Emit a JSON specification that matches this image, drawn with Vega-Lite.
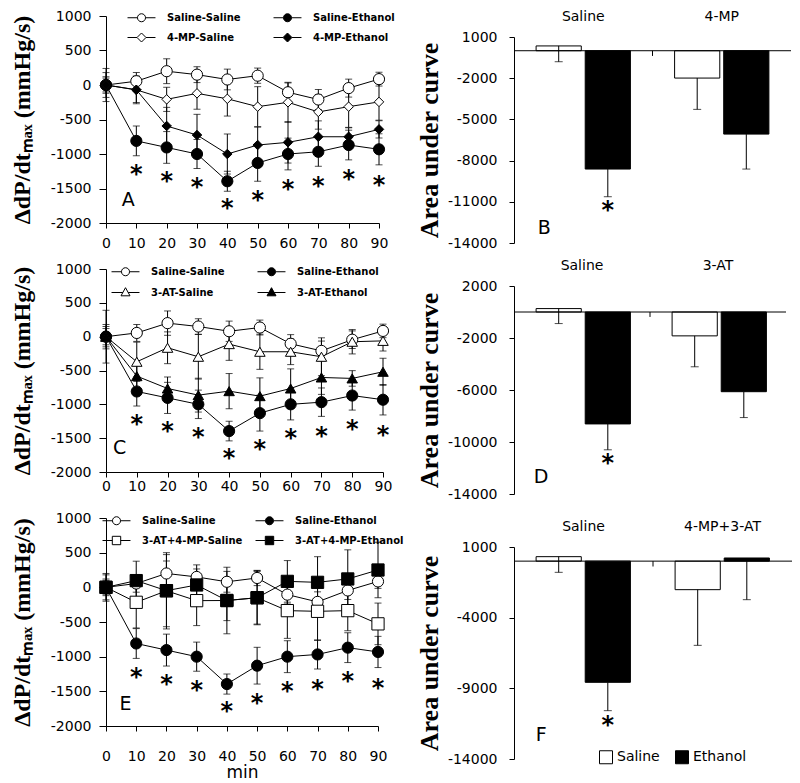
{
  "$schema": "https://vega.github.io/schema/vega-lite/v6.json",
  "background": "white",
  "padding": {"left": 10, "top": 0, "right": 0, "bottom": 0},
  "config": {
    "view": {"stroke": null},
    "font": "DejaVu Sans",
    "axis": {"grid": false, "domainColor": "black", "tickColor": "black", "labelColor": "black", "titleColor": "black", "labelFont": "DejaVu Sans", "labelFontSize": 14, "domainWidth": 1, "tickWidth": 1}
  },
  "datasets": {
    "A": [
      {"series": "Saline-Saline", "t": 0, "v": 0, "e": 180}, {"series": "Saline-Saline", "t": 10, "v": 55, "e": 125}, {"series": "Saline-Saline", "t": 20, "v": 200, "e": 180}, {"series": "Saline-Saline", "t": 30, "v": 150, "e": 115}, {"series": "Saline-Saline", "t": 40, "v": 80, "e": 150}, {"series": "Saline-Saline", "t": 50, "v": 135, "e": 110}, {"series": "Saline-Saline", "t": 60, "v": -105, "e": 135}, {"series": "Saline-Saline", "t": 70, "v": -210, "e": 145}, {"series": "Saline-Saline", "t": 80, "v": -45, "e": 130}, {"series": "Saline-Saline", "t": 90, "v": 85, "e": 100},
      {"series": "Saline-Ethanol", "t": 0, "v": 0, "e": 120}, {"series": "Saline-Ethanol", "t": 10, "v": -810, "e": 215}, {"series": "Saline-Ethanol", "t": 20, "v": -905, "e": 230}, {"series": "Saline-Ethanol", "t": 30, "v": -1000, "e": 210}, {"series": "Saline-Ethanol", "t": 40, "v": -1395, "e": 145}, {"series": "Saline-Ethanol", "t": 50, "v": -1130, "e": 265}, {"series": "Saline-Ethanol", "t": 60, "v": -1000, "e": 230}, {"series": "Saline-Ethanol", "t": 70, "v": -968, "e": 210}, {"series": "Saline-Ethanol", "t": 80, "v": -870, "e": 215}, {"series": "Saline-Ethanol", "t": 90, "v": -932, "e": 225},
      {"series": "4-MP-Saline", "t": 0, "v": 0, "e": 240}, {"series": "4-MP-Saline", "t": 10, "v": -70, "e": 200}, {"series": "4-MP-Saline", "t": 20, "v": -208, "e": 175}, {"series": "4-MP-Saline", "t": 30, "v": -121, "e": 230}, {"series": "4-MP-Saline", "t": 40, "v": -200, "e": 250}, {"series": "4-MP-Saline", "t": 50, "v": -314, "e": 290}, {"series": "4-MP-Saline", "t": 60, "v": -251, "e": 290}, {"series": "4-MP-Saline", "t": 70, "v": -390, "e": 250}, {"series": "4-MP-Saline", "t": 80, "v": -314, "e": 300}, {"series": "4-MP-Saline", "t": 90, "v": -245, "e": 265},
      {"series": "4-MP-Ethanol", "t": 0, "v": 0, "e": 100}, {"series": "4-MP-Ethanol", "t": 10, "v": -70, "e": 185}, {"series": "4-MP-Ethanol", "t": 20, "v": -594, "e": 270}, {"series": "4-MP-Ethanol", "t": 30, "v": -725, "e": 300}, {"series": "4-MP-Ethanol", "t": 40, "v": -1000, "e": 290}, {"series": "4-MP-Ethanol", "t": 50, "v": -870, "e": 260}, {"series": "4-MP-Ethanol", "t": 60, "v": -831, "e": 300}, {"series": "4-MP-Ethanol", "t": 70, "v": -750, "e": 230}, {"series": "4-MP-Ethanol", "t": 80, "v": -750, "e": 130}, {"series": "4-MP-Ethanol", "t": 90, "v": -643, "e": 125}
    ],
    "C": [
      {"series": "Saline-Saline", "t": 0, "v": 0, "e": 180}, {"series": "Saline-Saline", "t": 10, "v": 55, "e": 125}, {"series": "Saline-Saline", "t": 20, "v": 200, "e": 180}, {"series": "Saline-Saline", "t": 30, "v": 150, "e": 115}, {"series": "Saline-Saline", "t": 40, "v": 80, "e": 150}, {"series": "Saline-Saline", "t": 50, "v": 135, "e": 110}, {"series": "Saline-Saline", "t": 60, "v": -105, "e": 135}, {"series": "Saline-Saline", "t": 70, "v": -210, "e": 145}, {"series": "Saline-Saline", "t": 80, "v": -45, "e": 130}, {"series": "Saline-Saline", "t": 90, "v": 85, "e": 100},
      {"series": "Saline-Ethanol", "t": 0, "v": 0, "e": 120}, {"series": "Saline-Ethanol", "t": 10, "v": -810, "e": 215}, {"series": "Saline-Ethanol", "t": 20, "v": -905, "e": 230}, {"series": "Saline-Ethanol", "t": 30, "v": -1000, "e": 210}, {"series": "Saline-Ethanol", "t": 40, "v": -1395, "e": 145}, {"series": "Saline-Ethanol", "t": 50, "v": -1130, "e": 265}, {"series": "Saline-Ethanol", "t": 60, "v": -1000, "e": 230}, {"series": "Saline-Ethanol", "t": 70, "v": -968, "e": 210}, {"series": "Saline-Ethanol", "t": 80, "v": -870, "e": 215}, {"series": "Saline-Ethanol", "t": 90, "v": -932, "e": 225},
      {"series": "3-AT-Saline", "t": 0, "v": 0, "e": 390}, {"series": "3-AT-Saline", "t": 10, "v": -371, "e": 290}, {"series": "3-AT-Saline", "t": 20, "v": -164, "e": 235}, {"series": "3-AT-Saline", "t": 30, "v": -297, "e": 330}, {"series": "3-AT-Saline", "t": 40, "v": -110, "e": 240}, {"series": "3-AT-Saline", "t": 50, "v": -223, "e": 260}, {"series": "3-AT-Saline", "t": 60, "v": -223, "e": 190}, {"series": "3-AT-Saline", "t": 70, "v": -297, "e": 280}, {"series": "3-AT-Saline", "t": 80, "v": -75, "e": 180}, {"series": "3-AT-Saline", "t": 90, "v": -62, "e": 150},
      {"series": "3-AT-Ethanol", "t": 0, "v": 0, "e": 150}, {"series": "3-AT-Ethanol", "t": 10, "v": -583, "e": 180}, {"series": "3-AT-Ethanol", "t": 20, "v": -766, "e": 170}, {"series": "3-AT-Ethanol", "t": 30, "v": -864, "e": 250}, {"series": "3-AT-Ethanol", "t": 40, "v": -805, "e": 260}, {"series": "3-AT-Ethanol", "t": 50, "v": -879, "e": 270}, {"series": "3-AT-Ethanol", "t": 60, "v": -766, "e": 290}, {"series": "3-AT-Ethanol", "t": 70, "v": -603, "e": 250}, {"series": "3-AT-Ethanol", "t": 80, "v": -617, "e": 115}, {"series": "3-AT-Ethanol", "t": 90, "v": -519, "e": 200}
    ],
    "E": [
      {"series": "Saline-Saline", "t": 0, "v": 0, "e": 180}, {"series": "Saline-Saline", "t": 10, "v": 55, "e": 125}, {"series": "Saline-Saline", "t": 20, "v": 200, "e": 180}, {"series": "Saline-Saline", "t": 30, "v": 150, "e": 115}, {"series": "Saline-Saline", "t": 40, "v": 80, "e": 150}, {"series": "Saline-Saline", "t": 50, "v": 135, "e": 110}, {"series": "Saline-Saline", "t": 60, "v": -105, "e": 135}, {"series": "Saline-Saline", "t": 70, "v": -210, "e": 145}, {"series": "Saline-Saline", "t": 80, "v": -45, "e": 130}, {"series": "Saline-Saline", "t": 90, "v": 85, "e": 100},
      {"series": "Saline-Ethanol", "t": 0, "v": 0, "e": 120}, {"series": "Saline-Ethanol", "t": 10, "v": -810, "e": 215}, {"series": "Saline-Ethanol", "t": 20, "v": -905, "e": 230}, {"series": "Saline-Ethanol", "t": 30, "v": -1000, "e": 210}, {"series": "Saline-Ethanol", "t": 40, "v": -1395, "e": 145}, {"series": "Saline-Ethanol", "t": 50, "v": -1130, "e": 265}, {"series": "Saline-Ethanol", "t": 60, "v": -1000, "e": 230}, {"series": "Saline-Ethanol", "t": 70, "v": -968, "e": 210}, {"series": "Saline-Ethanol", "t": 80, "v": -870, "e": 215}, {"series": "Saline-Ethanol", "t": 90, "v": -932, "e": 225},
      {"series": "3-AT+4-MP-Saline", "t": 0, "v": 0, "e": 200}, {"series": "3-AT+4-MP-Saline", "t": 10, "v": -216, "e": 370}, {"series": "3-AT+4-MP-Saline", "t": 20, "v": -50, "e": 550}, {"series": "3-AT+4-MP-Saline", "t": 30, "v": -192, "e": 360}, {"series": "3-AT+4-MP-Saline", "t": 40, "v": -190, "e": 290}, {"series": "3-AT+4-MP-Saline", "t": 50, "v": -150, "e": 380}, {"series": "3-AT+4-MP-Saline", "t": 60, "v": -336, "e": 400}, {"series": "3-AT+4-MP-Saline", "t": 70, "v": -346, "e": 420}, {"series": "3-AT+4-MP-Saline", "t": 80, "v": -336, "e": 290}, {"series": "3-AT+4-MP-Saline", "t": 90, "v": -527, "e": 300},
      {"series": "3-AT+4-MP-Ethanol", "t": 0, "v": 0, "e": 100}, {"series": "3-AT+4-MP-Ethanol", "t": 10, "v": 97, "e": 280}, {"series": "3-AT+4-MP-Ethanol", "t": 20, "v": -48, "e": 520}, {"series": "3-AT+4-MP-Ethanol", "t": 30, "v": 34, "e": 290}, {"series": "3-AT+4-MP-Ethanol", "t": 40, "v": -190, "e": 480}, {"series": "3-AT+4-MP-Ethanol", "t": 50, "v": -150, "e": 390}, {"series": "3-AT+4-MP-Ethanol", "t": 60, "v": 86, "e": 300}, {"series": "3-AT+4-MP-Ethanol", "t": 70, "v": 72, "e": 370}, {"series": "3-AT+4-MP-Ethanol", "t": 80, "v": 121, "e": 420}, {"series": "3-AT+4-MP-Ethanol", "t": 90, "v": 250, "e": 400}
    ],
    "stars": [
      {"t": 10, "v": -1220}, {"t": 20, "v": -1320}, {"t": 30, "v": -1405}, {"t": 40, "v": -1715}, {"t": 50, "v": -1590}, {"t": 60, "v": -1430}, {"t": 70, "v": -1390}, {"t": 80, "v": -1285}, {"t": 90, "v": -1375}
    ],
    "B": [
      {"g": "Saline", "trt": "Saline", "v": 350, "lo": -800}, {"g": "Saline", "trt": "Ethanol", "v": -8616, "lo": -10630},
      {"g": "4-MP", "trt": "Saline", "v": -1990, "lo": -4270}, {"g": "4-MP", "trt": "Ethanol", "v": -6070, "lo": -8616}
    ],
    "D": [
      {"g": "Saline", "trt": "Saline", "v": 263, "lo": -890}, {"g": "Saline", "trt": "Ethanol", "v": -8610, "lo": -10600},
      {"g": "3-AT", "trt": "Saline", "v": -1836, "lo": -4214}, {"g": "3-AT", "trt": "Ethanol", "v": -6130, "lo": -8120}
    ],
    "F": [
      {"g": "Saline", "trt": "Saline", "v": 316, "lo": -792}, {"g": "Saline", "trt": "Ethanol", "v": -8575, "lo": -10580},
      {"g": "4-MP+3-AT", "trt": "Saline", "v": -2019, "lo": -5958}, {"g": "4-MP+3-AT", "trt": "Ethanol", "v": 222, "lo": -2727}
    ]
  },
  "spacing": 12,
  "resolve": {"scale": {"shape": "independent", "fill": "independent", "stroke": "independent"}, "legend": {"shape": "independent", "fill": "independent", "stroke": "independent"}},
  "hconcat": [
    {
      "spacing": 8,
      "resolve": {"scale": {"shape": "independent", "fill": "independent", "stroke": "independent"}, "legend": {"shape": "independent", "fill": "independent", "stroke": "independent"}},
      "vconcat": [
        {"width": 10, "height": 1, "data": {"values": [{}]}, "mark": {"type": "point", "opacity": 0, "size": 0}, "encoding": {}},
        {
          "spacing": 18,
          "resolve": {"scale": {"shape": "independent", "fill": "independent", "stroke": "independent"}, "legend": {"shape": "independent", "fill": "independent", "stroke": "independent"}},
          "vconcat": [
            {
              "spacing": 12,
              "resolve": {"scale": {"shape": "independent", "fill": "independent", "stroke": "independent"}, "legend": {"shape": "independent", "fill": "independent", "stroke": "independent"}},
              "vconcat": [
                {
                  "width": 273, "height": 207,
                  "data": {"name": "A"},
                  "encoding": {
                    "x": {"field": "t", "type": "quantitative", "scale": {"domain": [0, 90], "nice": false}, "axis": {"values": [0,10,20,30,40,50,60,70,80,90], "title": null, "tickSize": 5, "labelPadding": 8, "labelFlush": false, "labelOverlap": false}},
                    "y": {"field": "v", "type": "quantitative", "scale": {"domain": [-2000, 1000], "nice": false}, "axis": {"values": [-2000,-1500,-1000,-500,0,500,1000], "title": "ΔdP/dtₘₐₓ (mmHg/s)", "labelExpr": "'' + datum.value", "labelOverlap": false, "tickSize": 7, "labelPadding": 8, "titleFont": "Liberation Serif", "titleFontWeight": "bold", "titleFontSize": 24, "titlePadding": 16}}
                  },
                  "layer": [
                    {"mark": {"type": "errorbar", "color": "black", "thickness": 1, "ticks": {"size": 7, "color": "black"}},
                     "encoding": {"yError": {"field": "e"}}},
                    {"mark": {"type": "line", "color": "black", "strokeWidth": 1},
                     "encoding": {"detail": {"field": "series"}}},
                    {"mark": {"type": "point", "filled": true, "stroke": "black", "strokeWidth": 1, "opacity": 1},
                     "encoding": {
                       "shape": {"condition": {"test": "indexof(datum.series,'4-MP')===0", "value": "diamond"}, "value": "circle"},
                       "fill": {"condition": {"test": "indexof(datum.series,'Ethanol')>=0", "value": "black"}, "value": "white"},
                       "size": {"condition": {"test": "indexof(datum.series,'Saline-')===0", "value": 125}, "value": 90}
                     }},
                    {"data": {"values": []}, "mark": {"type": "point", "filled": true, "size": 144, "strokeWidth": 1, "opacity": 1},
                     "encoding": {
                       "shape": {"field": "series", "type": "nominal", "scale": {"domain": ["Saline-Saline", "Saline-Ethanol", "4-MP-Saline", "4-MP-Ethanol"], "range": ["M-2.33,0H-0.67M0.67,0H2.33M-0.67,0A0.67,0.67,0,1,1,0.67,0A0.67,0.67,0,1,1,-0.67,0Z", "M-2.33,0H-0.67M0.67,0H2.33M-0.67,0A0.67,0.67,0,1,1,0.67,0A0.67,0.67,0,1,1,-0.67,0Z", "M-2.33,0H-0.75M0.75,0H2.33M0,-0.75L0.75,0L0,0.75L-0.75,0Z", "M-2.33,0H-0.75M0.75,0H2.33M0,-0.75L0.75,0L0,0.75L-0.75,0Z"]},
                         "legend": {"title": null, "orient": "none", "legendX": 21, "legendY": -5, "direction": "horizontal", "columns": 2, "columnPadding": 30, "rowPadding": 7, "symbolSize": 144, "symbolOffset": 8, "labelOffset": 19, "labelFont": "DejaVu Sans", "labelFontWeight": "bold", "labelFontSize": 10, "labelColor": "black", "symbolStrokeWidth": 1}},
                       "fill": {"field": "series", "type": "nominal", "scale": {"domain": ["Saline-Saline", "Saline-Ethanol", "4-MP-Saline", "4-MP-Ethanol"], "range": ["white", "black", "white", "black"]},
                         "legend": {"title": null, "orient": "none", "legendX": 21, "legendY": -5, "direction": "horizontal", "columns": 2, "columnPadding": 30, "rowPadding": 7, "symbolSize": 144, "symbolOffset": 8, "labelOffset": 19, "labelFont": "DejaVu Sans", "labelFontWeight": "bold", "labelFontSize": 10, "labelColor": "black", "symbolStrokeWidth": 1}},
                       "stroke": {"field": "series", "type": "nominal", "scale": {"domain": ["Saline-Saline", "Saline-Ethanol", "4-MP-Saline", "4-MP-Ethanol"], "range": ["black", "black", "black", "black"]},
                         "legend": {"title": null, "orient": "none", "legendX": 21, "legendY": -5, "direction": "horizontal", "columns": 2, "columnPadding": 30, "rowPadding": 7, "symbolSize": 144, "symbolOffset": 8, "labelOffset": 19, "labelFont": "DejaVu Sans", "labelFontWeight": "bold", "labelFontSize": 10, "labelColor": "black", "symbolStrokeWidth": 1}}
                     }},
                    {"data": {"name": "stars"}, "mark": {"type": "text", "text": "*", "font": "DejaVu Sans", "fontWeight": "bold", "fontSize": 24, "baseline": "middle", "dy": 6, "color": "black"}},
                    {"data": {"values": [{"t": 5.2, "v": -1667, "label": "A"}]}, "mark": {"type": "text", "align": "left", "baseline": "middle", "font": "DejaVu Sans", "fontSize": 19, "color": "black"},
                     "encoding": {"text": {"field": "label"}}}
                  ]
                },
                {
                  "width": 277, "height": 203,
                  "data": {"name": "C"},
                  "encoding": {
                    "x": {"field": "t", "type": "quantitative", "scale": {"domain": [0, 90], "nice": false}, "axis": {"values": [0,10,20,30,40,50,60,70,80,90], "title": null, "tickSize": 5, "labelPadding": 2, "labelFlush": false, "labelOverlap": false}},
                    "y": {"field": "v", "type": "quantitative", "scale": {"domain": [-2000, 1000], "nice": false}, "axis": {"values": [-2000,-1500,-1000,-500,0,500,1000], "title": "ΔdP/dtₘₐₓ (mmHg/s)", "labelExpr": "'' + datum.value", "labelOverlap": false, "tickSize": 7, "labelPadding": 8, "titleFont": "Liberation Serif", "titleFontWeight": "bold", "titleFontSize": 24, "titlePadding": 16}}
                  },
                  "layer": [
                    {"mark": {"type": "errorbar", "color": "black", "thickness": 1, "ticks": {"size": 7, "color": "black"}},
                     "encoding": {"yError": {"field": "e"}}},
                    {"mark": {"type": "line", "color": "black", "strokeWidth": 1},
                     "encoding": {"detail": {"field": "series"}}},
                    {"mark": {"type": "point", "filled": true, "stroke": "black", "strokeWidth": 1, "opacity": 1},
                     "encoding": {
                       "shape": {"condition": {"test": "indexof(datum.series,'3-AT')===0", "value": "triangle-up"}, "value": "circle"},
                       "fill": {"condition": {"test": "indexof(datum.series,'Ethanol')>=0", "value": "black"}, "value": "white"},
                       "size": {"condition": {"test": "indexof(datum.series,'Saline-')===0", "value": 125}, "value": 110}
                     }},
                    {"data": {"values": []}, "mark": {"type": "point", "filled": true, "size": 144, "strokeWidth": 1, "opacity": 1},
                     "encoding": {
                       "shape": {"field": "series", "type": "nominal", "scale": {"domain": ["Saline-Saline", "Saline-Ethanol", "3-AT-Saline", "3-AT-Ethanol"], "range": ["M-2.33,0H-0.67M0.67,0H2.33M-0.67,0A0.67,0.67,0,1,1,0.67,0A0.67,0.67,0,1,1,-0.67,0Z", "M-2.33,0H-0.67M0.67,0H2.33M-0.67,0A0.67,0.67,0,1,1,0.67,0A0.67,0.67,0,1,1,-0.67,0Z", "M-2.33,0H-0.44M0.44,0H2.33M0,-0.8L0.75,0.55L-0.75,0.55Z", "M-2.33,0H-0.44M0.44,0H2.33M0,-0.8L0.75,0.55L-0.75,0.55Z"]},
                         "legend": {"title": null, "orient": "none", "legendX": 5, "legendY": -4, "direction": "horizontal", "columns": 2, "columnPadding": 30, "rowPadding": 7, "symbolSize": 144, "symbolOffset": 8, "labelOffset": 19, "labelFont": "DejaVu Sans", "labelFontWeight": "bold", "labelFontSize": 10, "labelColor": "black", "symbolStrokeWidth": 1}},
                       "fill": {"field": "series", "type": "nominal", "scale": {"domain": ["Saline-Saline", "Saline-Ethanol", "3-AT-Saline", "3-AT-Ethanol"], "range": ["white", "black", "white", "black"]},
                         "legend": {"title": null, "orient": "none", "legendX": 5, "legendY": -4, "direction": "horizontal", "columns": 2, "columnPadding": 30, "rowPadding": 7, "symbolSize": 144, "symbolOffset": 8, "labelOffset": 19, "labelFont": "DejaVu Sans", "labelFontWeight": "bold", "labelFontSize": 10, "labelColor": "black", "symbolStrokeWidth": 1}},
                       "stroke": {"field": "series", "type": "nominal", "scale": {"domain": ["Saline-Saline", "Saline-Ethanol", "3-AT-Saline", "3-AT-Ethanol"], "range": ["black", "black", "black", "black"]},
                         "legend": {"title": null, "orient": "none", "legendX": 5, "legendY": -4, "direction": "horizontal", "columns": 2, "columnPadding": 30, "rowPadding": 7, "symbolSize": 144, "symbolOffset": 8, "labelOffset": 19, "labelFont": "DejaVu Sans", "labelFontWeight": "bold", "labelFontSize": 10, "labelColor": "black", "symbolStrokeWidth": 1}}
                     }},
                    {"data": {"name": "stars"}, "mark": {"type": "text", "text": "*", "font": "DejaVu Sans", "fontWeight": "bold", "fontSize": 24, "baseline": "middle", "dy": 6, "color": "black"}},
                    {"data": {"values": [{"t": 2.3, "v": -1649, "label": "C"}]}, "mark": {"type": "text", "align": "left", "baseline": "middle", "font": "DejaVu Sans", "fontSize": 19, "color": "black"},
                     "encoding": {"text": {"field": "label"}}}
                  ]
                }
              ]
            },
            {
              "width": 272, "height": 208,
              "data": {"name": "E"},
              "encoding": {
                "x": {"field": "t", "type": "quantitative", "scale": {"domain": [0, 90], "nice": false}, "axis": {"values": [0,10,20,30,40,50,60,70,80,90], "title": "min", "titleFont": "DejaVu Sans", "titleFontWeight": "normal", "titleFontSize": 17, "titlePadding": 1, "tickSize": 5, "labelPadding": 18, "labelFlush": false, "labelOverlap": false}},
                "y": {"field": "v", "type": "quantitative", "scale": {"domain": [-2000, 1000], "nice": false}, "axis": {"values": [-2000,-1500,-1000,-500,0,500,1000], "title": "ΔdP/dtₘₐₓ (mmHg/s)", "labelExpr": "'' + datum.value", "labelOverlap": false, "tickSize": 7, "labelPadding": 8, "titleFont": "Liberation Serif", "titleFontWeight": "bold", "titleFontSize": 24, "titlePadding": 16}}
              },
              "layer": [
                {"mark": {"type": "errorbar", "color": "black", "thickness": 1, "ticks": {"size": 7, "color": "black"}},
                 "encoding": {"yError": {"field": "e"}}},
                {"mark": {"type": "line", "color": "black", "strokeWidth": 1},
                 "encoding": {"detail": {"field": "series"}}},
                {"mark": {"type": "point", "filled": true, "stroke": "black", "strokeWidth": 1, "opacity": 1},
                 "encoding": {
                   "shape": {"condition": {"test": "indexof(datum.series,'3-AT')===0", "value": "square"}, "value": "circle"},
                   "fill": {"condition": {"test": "indexof(datum.series,'Ethanol')>=0", "value": "black"}, "value": "white"},
                   "size": {"condition": {"test": "indexof(datum.series,'Saline-')===0", "value": 125}, "value": 150}
                 }},
                {"data": {"values": []}, "mark": {"type": "point", "filled": true, "size": 144, "strokeWidth": 1, "opacity": 1},
                 "encoding": {
                   "shape": {"field": "series", "type": "nominal", "scale": {"domain": ["Saline-Saline", "Saline-Ethanol", "3-AT+4-MP-Saline", "3-AT+4-MP-Ethanol"], "range": ["M-2.33,0H-0.67M0.67,0H2.33M-0.67,0A0.67,0.67,0,1,1,0.67,0A0.67,0.67,0,1,1,-0.67,0Z", "M-2.33,0H-0.67M0.67,0H2.33M-0.67,0A0.67,0.67,0,1,1,0.67,0A0.67,0.67,0,1,1,-0.67,0Z", "M-2.33,0H-0.7M0.7,0H2.33M-0.7,-0.7H0.7V0.7H-0.7Z", "M-2.33,0H-0.7M0.7,0H2.33M-0.7,-0.7H0.7V0.7H-0.7Z"]},
                     "legend": {"title": null, "orient": "none", "legendX": -4, "legendY": -4, "direction": "horizontal", "columns": 2, "columnPadding": 10, "rowPadding": 7, "symbolSize": 144, "symbolOffset": 8, "labelOffset": 19, "labelFont": "DejaVu Sans", "labelFontWeight": "bold", "labelFontSize": 10, "labelColor": "black", "symbolStrokeWidth": 1}},
                   "fill": {"field": "series", "type": "nominal", "scale": {"domain": ["Saline-Saline", "Saline-Ethanol", "3-AT+4-MP-Saline", "3-AT+4-MP-Ethanol"], "range": ["white", "black", "white", "black"]},
                     "legend": {"title": null, "orient": "none", "legendX": -4, "legendY": -4, "direction": "horizontal", "columns": 2, "columnPadding": 10, "rowPadding": 7, "symbolSize": 144, "symbolOffset": 8, "labelOffset": 19, "labelFont": "DejaVu Sans", "labelFontWeight": "bold", "labelFontSize": 10, "labelColor": "black", "symbolStrokeWidth": 1}},
                   "stroke": {"field": "series", "type": "nominal", "scale": {"domain": ["Saline-Saline", "Saline-Ethanol", "3-AT+4-MP-Saline", "3-AT+4-MP-Ethanol"], "range": ["black", "black", "black", "black"]},
                     "legend": {"title": null, "orient": "none", "legendX": -4, "legendY": -4, "direction": "horizontal", "columns": 2, "columnPadding": 10, "rowPadding": 7, "symbolSize": 144, "symbolOffset": 8, "labelOffset": 19, "labelFont": "DejaVu Sans", "labelFontWeight": "bold", "labelFontSize": 10, "labelColor": "black", "symbolStrokeWidth": 1}}
                 }},
                {"data": {"name": "stars"}, "mark": {"type": "text", "text": "*", "font": "DejaVu Sans", "fontWeight": "bold", "fontSize": 24, "baseline": "middle", "dy": 6, "color": "black"}},
                {"data": {"values": [{"t": 4.5, "v": -1680, "label": "E"}]}, "mark": {"type": "text", "align": "left", "baseline": "middle", "font": "DejaVu Sans", "fontSize": 19, "color": "black"},
                 "encoding": {"text": {"field": "label"}}}
              ]
            }
          ]
        }
      ]
    },
    {
      "spacing": 8,
      "resolve": {"scale": {"fill": "independent"}, "legend": {"fill": "independent"}},
      "vconcat": [
        {"width": 10, "height": 1, "data": {"values": [{}]}, "mark": {"type": "point", "opacity": 0, "size": 0}, "encoding": {}},
        {
          "spacing": 18,
          "resolve": {"scale": {"fill": "independent"}, "legend": {"fill": "independent"}},
          "vconcat": [
            {
              "spacing": 8,
              "resolve": {"scale": {"fill": "independent"}, "legend": {"fill": "independent"}},
              "vconcat": [
                {
                  "width": 277, "height": 206,
                  "layer": [
                    {"data": {"name": "B"}, "mark": {"type": "bar", "stroke": "black", "strokeWidth": 1},
                     "encoding": {
                       "x": {"field": "g", "type": "nominal", "sort": ["Saline", "4-MP"], "scale": {"paddingInner": 0, "paddingOuter": 0}, "axis": {"orient": "top", "title": null, "domain": false, "ticks": false, "labelAngle": 0, "labelPadding": 14}},
                       "xOffset": {"field": "trt", "type": "nominal", "sort": ["Saline", "Ethanol"], "scale": {"paddingInner": 0.08, "paddingOuter": 0.45}},
                       "y": {"field": "v", "type": "quantitative", "scale": {"domain": [-14000, 1000], "nice": false}, "axis": {"values": [1000, -2000, -5000, -8000, -11000, -14000], "title": "Area under curve", "labelExpr": "'' + datum.value", "tickSize": 5, "labelPadding": 12, "titleFont": "Liberation Serif", "titleFontWeight": "bold", "titleFontSize": 26, "titlePadding": 5}},
                       "fill": {"field": "trt", "type": "nominal", "scale": {"domain": ["Saline", "Ethanol"], "range": ["white", "black"]}, "legend": null}
                     }},
                    {"data": {"name": "B"}, "mark": {"type": "rule", "color": "black", "strokeWidth": 1},
                     "encoding": {"x": {"field": "g", "type": "nominal", "sort": ["Saline", "4-MP"]}, "xOffset": {"field": "trt", "type": "nominal", "sort": ["Saline", "Ethanol"]}, "y": {"field": "v", "type": "quantitative"}, "y2": {"field": "lo"}}},
                    {"data": {"name": "B"}, "mark": {"type": "tick", "color": "black", "thickness": 1, "size": 8},
                     "encoding": {"x": {"field": "g", "type": "nominal", "sort": ["Saline", "4-MP"]}, "xOffset": {"field": "trt", "type": "nominal", "sort": ["Saline", "Ethanol"]}, "y": {"field": "lo", "type": "quantitative"}}},
                    {"data": {"values": [{}]}, "mark": {"type": "rule", "color": "black", "strokeWidth": 1}, "encoding": {"y": {"datum": 0}}},
                    {"data": {"values": [{"g": "Saline"}]}, "mark": {"type": "rule", "color": "black", "strokeWidth": 1},
                     "encoding": {"x": {"field": "g", "type": "nominal", "sort": ["Saline", "4-MP"], "bandPosition": 1}, "y": {"datum": 0}, "y2": {"datum": -380}}},
                    {"data": {"values": [{"g": "Saline", "trt": "Ethanol", "v": -11240}]}, "mark": {"type": "text", "text": "*", "font": "DejaVu Sans", "fontWeight": "bold", "fontSize": 24, "baseline": "middle", "dy": 6, "color": "black"},
                     "encoding": {"x": {"field": "g", "type": "nominal", "sort": ["Saline", "4-MP"]}, "xOffset": {"field": "trt", "type": "nominal", "sort": ["Saline", "Ethanol"]}, "y": {"field": "v", "type": "quantitative"}}},
                    {"data": {"values": [{"g": "Saline", "trt": "Saline", "v": -12900, "label": "B"}]}, "mark": {"type": "text", "align": "left", "baseline": "middle", "dx": -21, "font": "DejaVu Sans", "fontSize": 19, "color": "black"},
                     "encoding": {"x": {"field": "g", "type": "nominal", "sort": ["Saline", "4-MP"]}, "xOffset": {"field": "trt", "type": "nominal", "sort": ["Saline", "Ethanol"]}, "y": {"field": "v", "type": "quantitative"}, "text": {"field": "label"}}}
                  ]
                },
                {
                  "width": 272, "height": 208,
                  "layer": [
                    {"data": {"name": "D"}, "mark": {"type": "bar", "stroke": "black", "strokeWidth": 1},
                     "encoding": {
                       "x": {"field": "g", "type": "nominal", "sort": ["Saline", "3-AT"], "scale": {"paddingInner": 0, "paddingOuter": 0}, "axis": {"orient": "top", "title": null, "domain": false, "ticks": false, "labelAngle": 0, "labelPadding": 14}},
                       "xOffset": {"field": "trt", "type": "nominal", "sort": ["Saline", "Ethanol"], "scale": {"paddingInner": 0.08, "paddingOuter": 0.45}},
                       "y": {"field": "v", "type": "quantitative", "scale": {"domain": [-14000, 2000], "nice": false}, "axis": {"values": [2000, -2000, -6000, -10000, -14000], "title": "Area under curve", "labelExpr": "'' + datum.value", "tickSize": 5, "labelPadding": 12, "titleFont": "Liberation Serif", "titleFontWeight": "bold", "titleFontSize": 26, "titlePadding": 5}},
                       "fill": {"field": "trt", "type": "nominal", "scale": {"domain": ["Saline", "Ethanol"], "range": ["white", "black"]}, "legend": null}
                     }},
                    {"data": {"name": "D"}, "mark": {"type": "rule", "color": "black", "strokeWidth": 1},
                     "encoding": {"x": {"field": "g", "type": "nominal", "sort": ["Saline", "3-AT"]}, "xOffset": {"field": "trt", "type": "nominal", "sort": ["Saline", "Ethanol"]}, "y": {"field": "v", "type": "quantitative"}, "y2": {"field": "lo"}}},
                    {"data": {"name": "D"}, "mark": {"type": "tick", "color": "black", "thickness": 1, "size": 8},
                     "encoding": {"x": {"field": "g", "type": "nominal", "sort": ["Saline", "3-AT"]}, "xOffset": {"field": "trt", "type": "nominal", "sort": ["Saline", "Ethanol"]}, "y": {"field": "lo", "type": "quantitative"}}},
                    {"data": {"values": [{}]}, "mark": {"type": "rule", "color": "black", "strokeWidth": 1}, "encoding": {"y": {"datum": 0}}},
                    {"data": {"values": [{"g": "Saline"}]}, "mark": {"type": "rule", "color": "black", "strokeWidth": 1},
                     "encoding": {"x": {"field": "g", "type": "nominal", "sort": ["Saline", "3-AT"], "bandPosition": 1}, "y": {"datum": 0}, "y2": {"datum": -380}}},
                    {"data": {"values": [{"g": "Saline", "trt": "Ethanol", "v": -11235}]}, "mark": {"type": "text", "text": "*", "font": "DejaVu Sans", "fontWeight": "bold", "fontSize": 24, "baseline": "middle", "dy": 6, "color": "black"},
                     "encoding": {"x": {"field": "g", "type": "nominal", "sort": ["Saline", "3-AT"]}, "xOffset": {"field": "trt", "type": "nominal", "sort": ["Saline", "Ethanol"]}, "y": {"field": "v", "type": "quantitative"}}},
                    {"data": {"values": [{"g": "Saline", "trt": "Saline", "v": -12670, "label": "D"}]}, "mark": {"type": "text", "align": "left", "baseline": "middle", "dx": -25, "font": "DejaVu Sans", "fontSize": 19, "color": "black"},
                     "encoding": {"x": {"field": "g", "type": "nominal", "sort": ["Saline", "3-AT"]}, "xOffset": {"field": "trt", "type": "nominal", "sort": ["Saline", "Ethanol"]}, "y": {"field": "v", "type": "quantitative"}, "text": {"field": "label"}}}
                  ]
                }
              ]
            },
            {
              "width": 278, "height": 212,
              "layer": [
                {"data": {"name": "F"}, "mark": {"type": "bar", "stroke": "black", "strokeWidth": 1},
                 "encoding": {
                   "x": {"field": "g", "type": "nominal", "sort": ["Saline", "4-MP+3-AT"], "scale": {"paddingInner": 0, "paddingOuter": 0}, "axis": {"orient": "top", "title": null, "domain": false, "ticks": false, "labelAngle": 0, "labelPadding": 14}},
                   "xOffset": {"field": "trt", "type": "nominal", "sort": ["Saline", "Ethanol"], "scale": {"paddingInner": 0.08, "paddingOuter": 0.45}},
                   "y": {"field": "v", "type": "quantitative", "scale": {"domain": [-14000, 1000], "nice": false}, "axis": {"values": [1000, -4000, -9000, -14000], "title": "Area under curve", "labelExpr": "'' + datum.value", "tickSize": 5, "labelPadding": 12, "titleFont": "Liberation Serif", "titleFontWeight": "bold", "titleFontSize": 26, "titlePadding": 5}},
                   "fill": {"field": "trt", "type": "nominal", "scale": {"domain": ["Saline", "Ethanol"], "range": ["white", "black"]},
                     "legend": {"title": null, "orient": "none", "legendX": 85, "legendY": 203, "direction": "horizontal", "symbolType": "square", "symbolSize": 169, "symbolStrokeColor": "black", "symbolStrokeWidth": 1, "labelFont": "DejaVu Sans", "labelFontSize": 14, "labelColor": "black", "labelOffset": 4, "columnPadding": 13}}
                 }},
                {"data": {"name": "F"}, "mark": {"type": "rule", "color": "black", "strokeWidth": 1},
                 "encoding": {"x": {"field": "g", "type": "nominal", "sort": ["Saline", "4-MP+3-AT"]}, "xOffset": {"field": "trt", "type": "nominal", "sort": ["Saline", "Ethanol"]}, "y": {"field": "v", "type": "quantitative"}, "y2": {"field": "lo"}}},
                {"data": {"name": "F"}, "mark": {"type": "tick", "color": "black", "thickness": 1, "size": 8},
                 "encoding": {"x": {"field": "g", "type": "nominal", "sort": ["Saline", "4-MP+3-AT"]}, "xOffset": {"field": "trt", "type": "nominal", "sort": ["Saline", "Ethanol"]}, "y": {"field": "lo", "type": "quantitative"}}},
                {"data": {"values": [{}]}, "mark": {"type": "rule", "color": "black", "strokeWidth": 1}, "encoding": {"y": {"datum": 0}}},
                {"data": {"values": [{"g": "Saline"}]}, "mark": {"type": "rule", "color": "black", "strokeWidth": 1},
                 "encoding": {"x": {"field": "g", "type": "nominal", "sort": ["Saline", "4-MP+3-AT"], "bandPosition": 1}, "y": {"datum": 0}, "y2": {"datum": -380}}},
                {"data": {"values": [{"g": "Saline", "trt": "Ethanol", "v": -11222}]}, "mark": {"type": "text", "text": "*", "font": "DejaVu Sans", "fontWeight": "bold", "fontSize": 24, "baseline": "middle", "dy": 6, "color": "black"},
                 "encoding": {"x": {"field": "g", "type": "nominal", "sort": ["Saline", "4-MP+3-AT"]}, "xOffset": {"field": "trt", "type": "nominal", "sort": ["Saline", "Ethanol"]}, "y": {"field": "v", "type": "quantitative"}}},
                {"data": {"values": [{"g": "Saline", "trt": "Saline", "v": -12283, "label": "F"}]}, "mark": {"type": "text", "align": "left", "baseline": "middle", "dx": -23, "font": "DejaVu Sans", "fontSize": 19, "color": "black"},
                 "encoding": {"x": {"field": "g", "type": "nominal", "sort": ["Saline", "4-MP+3-AT"]}, "xOffset": {"field": "trt", "type": "nominal", "sort": ["Saline", "Ethanol"]}, "y": {"field": "v", "type": "quantitative"}, "text": {"field": "label"}}}
              ]
            }
          ]
        }
      ]
    }
  ]
}
